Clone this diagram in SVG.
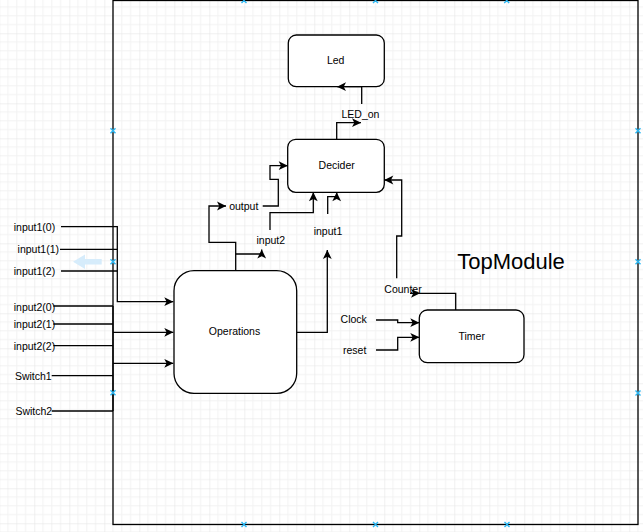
<svg xmlns="http://www.w3.org/2000/svg" width="643" height="532" viewBox="0 0 643 532">
<style>
.node{fill:#fff;stroke:#000;stroke-width:1.3}
.lbl{font-family:"Liberation Sans",Arial,sans-serif;font-size:10.5px;fill:#000;text-anchor:middle}
.big{font-family:"Liberation Sans",Arial,sans-serif;font-size:22px;fill:#000;text-anchor:middle}
.edge{fill:none;stroke:#000;stroke-width:1.3}
.arr{marker-end:url(#ah)}
.pt{stroke:#29b6f2;stroke-width:1.4;fill:none}
</style>
<defs>
<pattern id="grid" patternUnits="userSpaceOnUse" width="35" height="35" x="-0.7" y="-1.7">
<path d="M8.75 0V35M17.5 0V35M26.25 0V35M0 8.75H35M0 17.5H35M0 26.25H35" stroke="#f2f2f2" stroke-width="1"/>
<path d="M0 0V35M0 0H35" stroke="#e2e2e2" stroke-width="1"/>
</pattern>
<marker id="ah" viewBox="0 0 10 10" refX="9.5" refY="5" markerWidth="10" markerHeight="10" markerUnits="userSpaceOnUse" orient="auto">
<path d="M0.5,0.6 L9.6,5 L0.5,9.4 L2.8,5 Z" fill="#000"/>
</marker>
<g id="xm"><path class="pt" d="M-2.5,-2.5L2.5,2.5M-2.5,2.5L2.5,-2.5"/></g>
</defs>
<rect width="643" height="532" fill="#fff"/>
<rect width="643" height="532" fill="url(#grid)"/>

<g id="topmodule">
<rect x="113" y="0.5" width="525" height="524" fill="none" stroke="#000" stroke-width="1.3"/>
<text class="big" x="511" y="269">TopModule</text>
</g>

<g id="hover-arrow">
<path d="M73,261.7 L85,254.5 L85,259 L101.7,259 L101.7,264.5 L85,264.5 L85,269 Z" fill="#d6ecfb"/>
</g>

<g id="led">
<rect class="node" x="288.3" y="35" width="96" height="51.7" rx="8"/>
<text class="lbl" x="335.7" y="63.8">Led</text>
</g>
<g id="decider">
<rect class="node" x="287.7" y="139.3" width="96.6" height="53" rx="8"/>
<text class="lbl" x="336.7" y="168.8">Decider</text>
</g>
<g id="operations">
<rect class="node" x="174" y="270.7" width="122.7" height="122.6" rx="20"/>
<text class="lbl" x="234.5" y="334.8">Operations</text>
</g>
<g id="timer">
<rect class="node" x="419.3" y="310" width="104.7" height="52.7" rx="8"/>
<text class="lbl" x="471.7" y="339.8">Timer</text>
</g>

<g id="connectors">
<path class="edge arr" d="M61,226.7H117.3V301.7H173.3"/>
<path class="edge" d="M60,249.3H117.3"/>
<path class="edge" d="M61,271H117.3"/>
<path class="edge" d="M53.3,306H113M53.3,324H113M53.3,345.7H113M51.7,375.7H113M51.7,411H113M113,306V411"/>
<path class="edge arr" d="M113,332.3H173.3"/>
<path class="edge arr" d="M113,363.3H173.3"/>
<path class="edge arr" d="M235.7,270.7V242.3H209V206H226"/>
<path class="edge arr" d="M235.7,254H261.7V249.5"/>
<path class="edge arr" d="M296.7,332.3H327.3V250"/>
<path class="edge arr" d="M262.7,206H278.3V179.3H270V165.7H287.7"/>
<path class="edge arr" d="M270,230V212.7H313.3V192.3"/>
<path class="edge arr" d="M327.7,214V196.7H336.7V192.3"/>
<path class="edge arr" d="M396.7,278.3V236H401.7V180H384.3"/>
<path class="edge arr" d="M336.7,139.3V122.7H361"/>
<path class="edge arr" d="M361.7,104V86.7H337"/>
<path class="edge arr" d="M455.7,310V293.3H410H420"/>
<path class="edge arr" d="M376,320H397.7V322.7H419.3"/>
<path class="edge arr" d="M376,350H397.7V337.3H419.3"/>
</g>

<g id="label-input1-0"><text class="lbl" x="34.5" y="231">input1(0)</text></g>
<g id="label-input1-1"><text class="lbl" x="38.3" y="253">input1(1)</text></g>
<g id="label-input1-2"><text class="lbl" x="34.5" y="274.8">input1(2)</text></g>
<g id="label-input2-0"><text class="lbl" x="34.5" y="310.5">input2(0)</text></g>
<g id="label-input2-1"><text class="lbl" x="34.5" y="327.8">input2(1)</text></g>
<g id="label-input2-2"><text class="lbl" x="34.5" y="349.5">input2(2)</text></g>
<g id="label-switch1"><text class="lbl" x="33.3" y="379.5">Switch1</text></g>
<g id="label-switch2"><text class="lbl" x="33.8" y="414.8">Switch2</text></g>
<g id="label-output"><text class="lbl" x="243.8" y="209.8">output</text></g>
<g id="label-input2"><text class="lbl" x="270.8" y="243.8">input2</text></g>
<g id="label-input1"><text class="lbl" x="328" y="234.8">input1</text></g>
<g id="label-led-on"><text class="lbl" x="360.5" y="118">LED_on</text></g>
<g id="label-counter"><text class="lbl" x="403" y="292.8">Counter</text></g>
<g id="label-clock"><text class="lbl" x="353.7" y="323.1">Clock</text></g>
<g id="label-reset"><text class="lbl" x="354.7" y="353.8">reset</text></g>

<g id="connection-points">
<use href="#xm" x="244" y="0.5"/><use href="#xm" x="375.5" y="0.5"/><use href="#xm" x="506.7" y="0.5"/>
<use href="#xm" x="113" y="130.7"/><use href="#xm" x="113" y="261.7"/><use href="#xm" x="113" y="392.7"/>
<use href="#xm" x="638" y="130.7"/><use href="#xm" x="638" y="261.7"/><use href="#xm" x="638" y="393"/>
<use href="#xm" x="244" y="524.5"/><use href="#xm" x="375.5" y="524.5"/><use href="#xm" x="507" y="524.5"/>
</g>
</svg>
